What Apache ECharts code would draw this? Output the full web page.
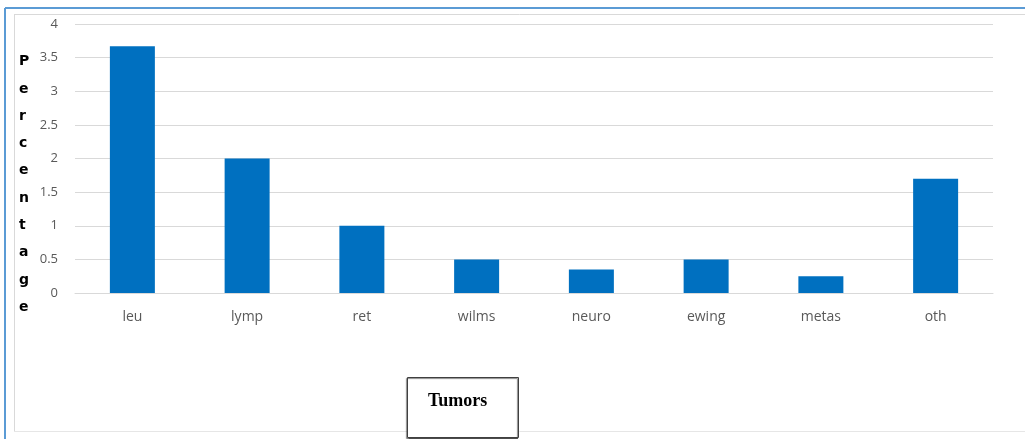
<!DOCTYPE html>
<html>
<head>
<meta charset="utf-8">
<title>Tumors</title>
<script src="https://cdn.jsdelivr.net/npm/echarts@6/dist/echarts.min.js"></script>
<style>
  html, body { margin: 0; padding: 0; background: #fff; }
  #chart { width: 1025px; height: 439px; }
</style>
</head>
<body>
<div id="chart"></div>
<script>
// tumor categories and percentages
var tumorNames = ['leu', 'lymp', 'ret', 'wilms', 'neuro', 'ewing', 'metas', 'oth'];
var percentValues = [3.67, 2.0, 1.0, 0.5, 0.35, 0.5, 0.25, 1.7];
var yTitle = 'Percentage';
var xTitle = 'Tumors';

var myChart = echarts.init(document.getElementById('chart'));

myChart.setOption({
    animation: false,
    backgroundColor: '#ffffff',
    grid: {
        left: 75,
        right: 32,
        top: 24,
        bottom: 146
    },
    xAxis: {
        type: 'category',
        data: tumorNames,
        axisLine: { show: true, lineStyle: { color: '#d9d9d9' } },
        axisTick: { show: false },
        axisLabel: {
            color: '#595959',
            fontSize: 14,
            fontFamily: 'Open Sans',
            margin: 17
        }
    },
    yAxis: {
        type: 'value',
        min: 0,
        max: 4,
        interval: 0.5,
        axisLine: { show: false },
        axisTick: { show: false },
        splitLine: { lineStyle: { color: '#d9d9d9', width: 1 } },
        axisLabel: {
            color: '#595959',
            fontSize: 13,
            fontFamily: 'Open Sans',
            margin: 17
        }
    },
    series: [{
        type: 'bar',
        data: percentValues,
        barWidth: 45,
        itemStyle: { color: '#0070c0' }
    }],
    graphic: [
        // outer blue frame
        {
            type: 'line',
            shape: { x1: 5, y1: 8, x2: 1025, y2: 8 },
            style: { stroke: '#5b9bd5', lineWidth: 2 }
        },
        {
            type: 'line',
            shape: { x1: 5, y1: 8, x2: 5, y2: 439 },
            style: { stroke: '#5b9bd5', lineWidth: 2 }
        },
        // inner gray chart border
        {
            type: 'line',
            shape: { x1: 14, y1: 14.5, x2: 1025, y2: 14.5 },
            style: { stroke: '#d9d9d9', lineWidth: 1 }
        },
        {
            type: 'line',
            shape: { x1: 14.5, y1: 14, x2: 14.5, y2: 432 },
            style: { stroke: '#d9d9d9', lineWidth: 1 }
        },
        {
            type: 'line',
            shape: { x1: 14, y1: 431.5, x2: 1025, y2: 431.5 },
            style: { stroke: '#e6e6e6', lineWidth: 1 }
        },
        // vertical letters of the y title
        {
            type: 'text',
            left: 19,
            top: 48,
            style: {
                text: yTitle.split('').join('\n'),
                fill: '#000000',
                font: 'bold 14px "DejaVu Sans"',
                lineHeight: 27.3,
                align: 'left'
            }
        },
        // x title box
        {
            type: 'rect',
            shape: { x: 407.5, y: 377.5, width: 111, height: 60 },
            style: {
                fill: '#ffffff',
                stroke: '#404040',
                lineWidth: 1,
                shadowColor: 'rgba(0,0,0,0.5)',
                shadowOffsetX: -1,
                shadowOffsetY: 1,
                shadowBlur: 1
            }
        },
        {
            type: 'text',
            left: 428,
            top: 392,
            style: {
                text: xTitle,
                fill: '#000000',
                font: 'bold 18px "Liberation Serif"'
            }
        }
    ]
});
</script>
</body>
</html>
